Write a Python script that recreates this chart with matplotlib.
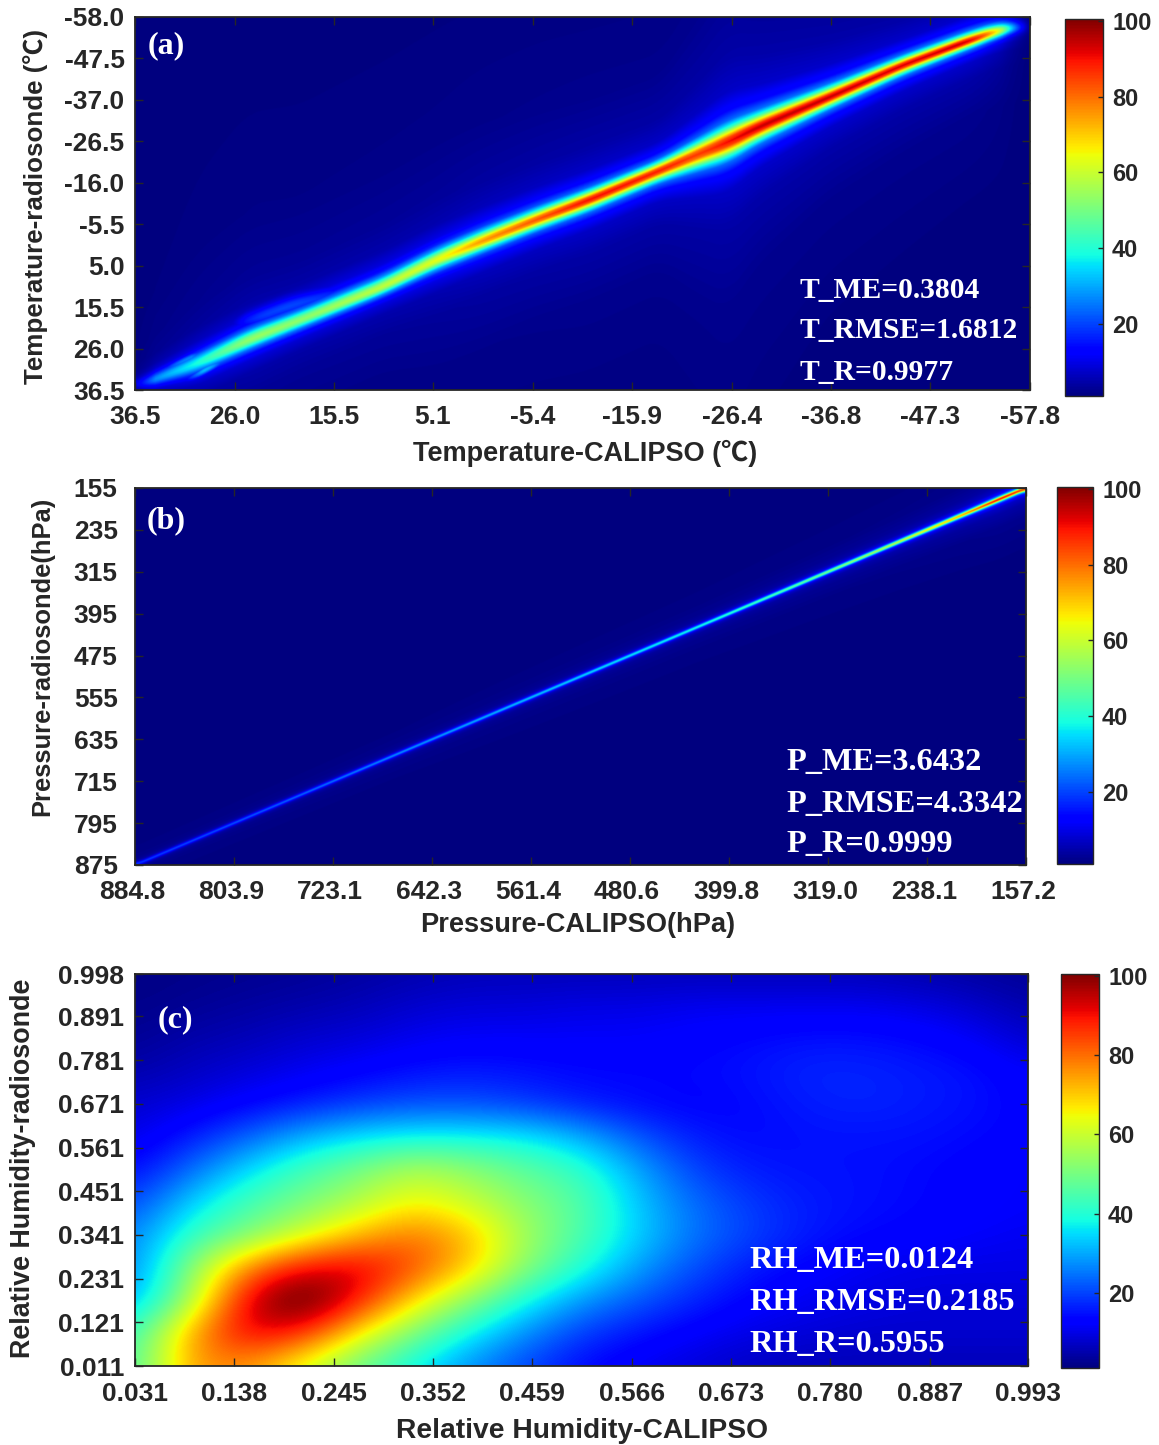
import numpy as np
import matplotlib
matplotlib.use("Agg")
import matplotlib.pyplot as plt
from matplotlib.transforms import ScaledTranslation

W, H = 1159, 1445
SANS = ['Liberation Sans', 'Noto Sans CJK SC', 'DejaVu Sans']
SERIF = ['Liberation Serif', 'DejaVu Serif']
INK = '#262626'

# ---- tick labels ----
a_xticks = [36.5, 26.0, 15.5, 5.1, -5.4, -15.9, -26.4, -36.8, -47.3, -57.8]
a_yticks = [36.5, 26.0, 15.5, 5.0, -5.5, -16.0, -26.5, -37.0, -47.5, -58.0]
b_xticks = [884.8, 803.9, 723.1, 642.3, 561.4, 480.6, 399.8, 319.0, 238.1, 157.2]
b_yticks = [875, 795, 715, 635, 555, 475, 395, 315, 235, 155]
c_xticks = [0.031, 0.138, 0.245, 0.352, 0.459, 0.566, 0.673, 0.780, 0.887, 0.993]
c_yticks = [0.011, 0.121, 0.231, 0.341, 0.451, 0.561, 0.671, 0.781, 0.891, 0.998]
cbar_ticks = [20, 40, 60, 80, 100]

# ---- panel (a): ridge read along the diagonal ----
a_cal = [36.0, 30.2, 24.5, 19.1, 10.4, 4.8, 0.15, -5.75, -11.3, -18.9, -23.0, -26.0, -29.0, -36.5, -44.4, -51.6, -53.1, -54.5, -55.9, -56.6]
a_rad = [35.2, 30.0, 23.8, 18.8, 10.4, 3.6, -1.0, -6.6, -11.6, -19.2, -23.4, -26.3, -29.9, -37.5, -45.8, -52.2, -53.4, -54.7, -55.2, -55.6]
a_peak = [22, 38, 54, 52, 58, 62, 75, 82, 90, 88, 84, 90, 94, 94, 92, 94, 82, 66, 40, 10]
a_wup = [1.6, 2.6, 2.7, 2.6, 2.6, 2.6, 2.5, 2.4, 2.2, 2.1, 3.1, 3.8, 3.1, 2.4, 1.9, 1.8, 1.8, 1.8, 1.8, 1.8]
a_wdn = [1.4, 2.6, 2.4, 2.2, 2.0, 2.4, 2.3, 2.2, 2.2, 2.2, 3.2, 3.7, 3.0, 2.2, 1.9, 1.6, 1.6, 1.6, 1.6, 1.6]
a_branch_cal = [26.5, 24.0, 20.0, 15.0, 13.0]
a_branch_rad = [20.3, 18.5, 15.0, 12.0, 10.5]
a_branch_peak = [8, 18, 20, 16, 0]
a_prong_up_cal = [35.0, 34.0, 32.5, 30.7, 29.0]
a_prong_up_rad = [33.8, 32.2, 30.4, 28.4, 26.5]
a_prong_up_peak = [0, 14, 22, 30, 20]
a_prong_dn_cal = [31.2, 30.7, 29.5, 28.1, 26.5]
a_prong_dn_rad = [34.5, 33.5, 31.8, 30.2, 28.5]
a_prong_dn_peak = [0, 22, 35, 34, 0]

# ---- panel (b) ----
b_cal = [884.8, 750.0, 586.7, 423.4, 325.4, 260.0, 211.0, 178.4, 157.2]
b_rad = [875.0, 741.7, 580.0, 418.5, 321.4, 256.7, 208.3, 175.8, 155.0]
b_peak = [18, 22, 30, 38, 48, 58, 72, 92, 84]
b_wid = [3.4, 3.6, 3.8, 3.8, 4.0, 4.2, 4.4, 4.6, 4.6]

# shared cross-ridge profile
prof_u = [0, 0.3, 0.6, 1.0, 1.5, 2.2, 3.5, 6, 12, 30]
prof_v = [1, 0.92, 0.72, 0.45, 0.25, 0.14, 0.07, 0.04, 0.015, 0]

# ---- panel (c): density read on a regular grid, top row first ----
c_grid = [
    [1.5, 2, 2.5, 3, 4, 5, 6, 6, 6, 6, 6, 6, 6, 6, 5, 4, 3],
    [2, 3, 4, 5, 6, 8, 9, 9, 10, 10, 11, 11, 11, 11, 10, 8, 5],
    [3, 5, 6, 8, 9, 11, 12, 12, 12, 12, 13, 14, 15, 15, 14, 12, 8],
    [5, 7, 9, 11, 13, 15, 16, 15, 14, 14, 14, 15, 17, 17, 16, 15, 12],
    [8, 10, 13, 16, 19, 21, 21, 19, 16, 14, 13, 14, 16, 17, 16, 15, 13],
    [10, 16, 23, 31, 36, 38, 38, 37, 31, 22, 16, 14, 15, 15, 15, 14, 13],
    [14, 24, 35, 44, 50, 58, 53, 47, 42, 30, 20, 16, 15, 15, 14, 13, 12],
    [20, 34, 44, 50, 57, 66, 60, 52, 46, 33, 24, 19, 16, 15, 14, 13, 12],
    [26, 42, 50, 61, 72, 80, 72, 55, 45, 34, 25, 20, 16, 14, 13, 12, 11],
    [26, 52, 78, 92, 94, 84, 70, 52, 40, 29, 21, 16, 13, 11, 10, 10, 10],
    [30, 55, 94, 108, 90, 68, 52, 38, 28, 22, 17, 13, 11, 10, 9, 9, 9],
    [42, 75, 93, 88, 66, 50, 37, 27, 19, 15, 12, 10, 9, 8, 8, 8, 8],
    [44, 76, 76, 62, 48, 37, 27, 20, 14, 11, 9, 7, 6, 6, 6, 6, 6],
]
BASE = 1.0
VMIN, VMAX = 1.0, 100.5
SMOOTH_PTS = 41


def px_axes(left, top, right, bottom):
    return fig.add_axes([left / W, 1 - bottom / H, (right - left) / W, (bottom - top) / H])


def soft(v):
    kernel = np.ones(SMOOTH_PTS) / SMOOTH_PTS
    pad = np.pad(v, SMOOTH_PTS, mode='edge')
    return np.convolve(pad, kernel, mode='same')[SMOOTH_PTS:-SMOOTH_PTS]


def ridge(xg, yg, xn, yn, pk, wu, wd):
    xn, yn, pk, wu, wd = [np.asarray(v, float)[::-1] for v in (xn, yn, pk, wu, wd)]
    x1 = xg[0]
    cy = np.interp(xg, x1, soft(np.interp(x1, xn, yn)))
    p = np.interp(xg, x1, soft(np.interp(x1, xn, pk, left=0, right=0)))
    up = np.interp(xg, x1, soft(np.interp(x1, xn, wu)))
    dn = np.interp(xg, x1, soft(np.interp(x1, xn, wd)))
    d = yg - cy
    w = np.where(d < 0, up, dn)
    return p * np.interp(np.abs(d) / w, prof_u, prof_v)


def style(ax, xt, yt, xfmt, yfmt, ypad, xpad, size=19):
    ax.set_xticks(xt)
    ax.set_yticks(yt)
    ax.set_xticklabels([xfmt.format(v) for v in xt])
    ax.set_yticklabels([yfmt.format(v) for v in yt])
    ax.tick_params(direction='in', top=True, right=True, length=6, width=1.0, color=INK)
    ax.tick_params(axis='x', pad=xpad)
    ax.tick_params(axis='y', pad=ypad)
    for lab in ax.get_xticklabels() + ax.get_yticklabels():
        lab.set_fontfamily(SANS)
        lab.set_fontweight('bold')
        lab.set_fontsize(size)
        lab.set_color(INK)
    for s in ax.spines.values():
        s.set_linewidth(1.3)
        s.set_color(INK)


def cbar(im, left, top, right, bottom):
    cax = px_axes(left, top, right, bottom)
    cb = fig.colorbar(im, cax=cax)
    cb.set_ticks(cbar_ticks)
    cb.ax.tick_params(direction='in', length=3.5, width=1.0, color=INK, pad=6.5)
    for lab in cb.ax.get_yticklabels():
        lab.set_fontfamily(SANS)
        lab.set_fontweight('bold')
        lab.set_fontsize(17)
        lab.set_color(INK)
    cb.outline.set_linewidth(1.0)
    cb.outline.set_edgecolor(INK)


def label(x, y, s, size, rot=0):
    fig.text(x / W, 1 - y / H, s, family=SANS, weight='bold', fontsize=size, color=INK,
             ha='center', va='center', rotation=rot)


def note(x, y, s, size):
    fig.text(x / W, 1 - y / H, s, family=SERIF, weight='bold', fontsize=size, color='white',
             ha='left', va='center', zorder=10)


fig = plt.figure(figsize=(W / 100, H / 100), dpi=100, facecolor='white')

# (a)
ax = px_axes(135, 17, 1030, 390)
xl, xr, yb, yt = 36.5, -57.8, 36.5, -58.0
xg, yg = np.meshgrid(np.linspace(xr, xl, 1200), np.linspace(yt, yb, 760))
Z = np.maximum.reduce([
    ridge(xg, yg, a_cal, a_rad, a_peak, a_wup, a_wdn),
    ridge(xg, yg, a_branch_cal, a_branch_rad, a_branch_peak, [2.4] * 5, [2.4] * 5),
    ridge(xg, yg, a_prong_up_cal, a_prong_up_rad, a_prong_up_peak, [1.1] * 5, [1.1] * 5),
    ridge(xg, yg, a_prong_dn_cal, a_prong_dn_rad, a_prong_dn_peak, [1.1] * 5, [1.1] * 5),
]) + BASE
im = ax.imshow(Z[:, ::-1], extent=[xl, xr, yb, yt], origin='upper', aspect='auto', cmap='jet',
               vmin=VMIN, vmax=VMAX, interpolation='bilinear')
ax.set_xlim(xl, xr)
ax.set_ylim(yb, yt)
style(ax, a_xticks, a_yticks, '{:.1f}', '{:.1f}', 7.5, 10.5)
cbar(im, 1065, 19, 1103, 396)
label(585, 453, 'Temperature-CALIPSO (℃)', 19.5)
label(36, 206, 'Temperature-radiosonde (℃)', 18.7, 90)
note(148, 46, '(a)', 23)
note(799, 290, 'T_ME=0.3804', 21.3)
note(799, 331, 'T_RMSE=1.6812', 21.3)
note(799, 372, 'T_R=0.9977', 21.3)

# (b)
ax = px_axes(135, 488, 1026, 865)
xl, xr, yb, yt = 884.8, 157.2, 875.0, 155.0
xg, yg = np.meshgrid(np.linspace(xr, xl, 1800), np.linspace(yt, yb, 1500))
Z = ridge(xg, yg, b_cal, b_rad, b_peak, b_wid, b_wid) + BASE
im = ax.imshow(Z[:, ::-1], extent=[xl, xr, yb, yt], origin='upper', aspect='auto', cmap='jet',
               vmin=VMIN, vmax=VMAX, interpolation='bilinear')
ax.set_xlim(xl, xr)
ax.set_ylim(yb, yt)
style(ax, b_xticks, b_yticks, '{:.1f}', '{:d}', 12.5, 10.5)
shift = ScaledTranslation(-3 / 100, 0, fig.dpi_scale_trans)
for lab in ax.get_xticklabels():
    lab.set_transform(lab.get_transform() + shift)
cbar(im, 1057, 487, 1093, 864)
label(578, 925, 'Pressure-CALIPSO(hPa)', 19.6)
label(42, 656, 'Pressure-radiosonde(hPa)', 18.4, 90)
note(147, 521, '(b)', 23)
note(786, 762, 'P_ME=3.6432', 23.3)
note(786, 804, 'P_RMSE=4.3342', 23.3)
note(786, 845, 'P_R=0.9999', 23.3)

# (c)
ax = px_axes(135, 974, 1028, 1366)
xl, xr, yb, yt = 0.031, 0.993, 0.011, 0.998
grid = np.array(c_grid, float)
nr, nc = grid.shape
dx = (xr - xl) / (nc - 1)
dy = (yt - yb) / (nr - 1)
im = ax.imshow(grid, extent=[xl - dx / 2, xr + dx / 2, yb - dy / 2, yt + dy / 2], origin='upper',
               aspect='auto', cmap='jet', vmin=VMIN, vmax=VMAX, interpolation='bicubic')
ax.set_xlim(xl, xr)
ax.set_ylim(yb, yt)
style(ax, c_xticks, c_yticks, '{:.3f}', '{:.3f}', 8, 11.5)
cbar(im, 1061, 974, 1099, 1368)
label(582, 1431, 'Relative Humidity-CALIPSO', 20.3)
label(23, 1168, 'Relative Humidity-radiosonde', 19.4, 90)
note(158, 1020, '(c)', 23)
note(749, 1261, 'RH_ME=0.0124', 23.3)
note(749, 1302, 'RH_RMSE=0.2185', 23.3)
note(749, 1344, 'RH_R=0.5955', 23.3)

fig.savefig('out.png', dpi=100, facecolor='white')
